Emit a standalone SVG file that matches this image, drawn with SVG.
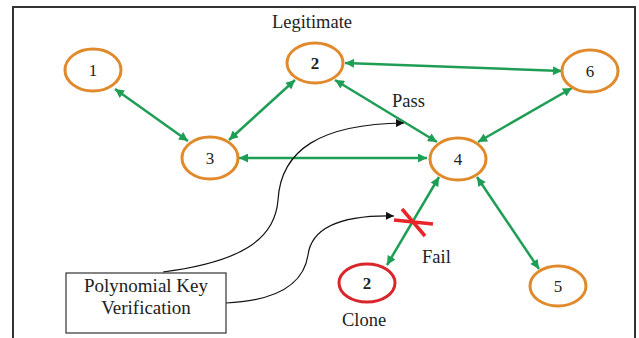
<svg xmlns="http://www.w3.org/2000/svg" width="639" height="338" viewBox="0 0 639 338">
<style>
.node ellipse{fill:#fff;stroke:#e08a2c;stroke-width:3}
.node.clone ellipse{stroke:#d9262c}
text{font-family:'Liberation Serif','Times New Roman','DejaVu Serif',serif}
.num{font-size:17px;fill:#222;text-anchor:middle}
.lbl{font-size:18.5px;fill:#222}
.box{font-size:19px;fill:#222;text-anchor:middle}
.g{stroke:#1e9e55;stroke-width:2.5;fill:none;marker-start:url(#ga);marker-end:url(#ga)}
.k{stroke:#111;stroke-width:1.2;fill:none;marker-end:url(#ka)}
</style>
<defs>
<marker id="ga" viewBox="0 0 10 10" refX="10" refY="5" markerWidth="10" markerHeight="9" markerUnits="userSpaceOnUse" orient="auto-start-reverse"><path d="M0,0 L10,5 L0,10 z" fill="#1e9e55"/></marker>
<marker id="ka" viewBox="0 0 10 10" refX="10" refY="5" markerWidth="9" markerHeight="8" markerUnits="userSpaceOnUse" orient="auto"><path d="M0,0 L10,5 L0,10 z" fill="#111"/></marker>
</defs>
<rect x="0" y="0" width="639" height="338" fill="#fff"/>
<rect x="13" y="7" width="622" height="345" fill="none" stroke="#333" stroke-width="2"/>
<g id="connectors">
<line class="g" x1="115" y1="89" x2="188" y2="141"/>
<line class="g" x1="229" y1="140" x2="295" y2="80"/>
<line class="g" x1="345" y1="63" x2="562" y2="71"/>
<line class="g" x1="335" y1="80" x2="437" y2="142"/>
<line class="g" x1="572" y1="88" x2="478" y2="142"/>
<line class="g" x1="239" y1="158" x2="427" y2="158"/>
<line class="g" x1="439" y1="177" x2="387" y2="265"/>
<line class="g" x1="477" y1="177" x2="539" y2="269"/>
<path class="k" d="M163,272 C240,262 275,240 278,200 C281,150 320,124 404,123"/>
<path class="k" d="M226,303 C290,300 305,275 308,255 C312,225 345,215 394,216"/>
<g id="fail-cross" stroke="#e8262a" stroke-width="3.5" fill="none">
<line x1="394" y1="220" x2="433" y2="224"/>
<line x1="402" y1="209" x2="425" y2="236"/>
</g>
</g>
<g id="node1" class="node"><ellipse cx="93" cy="70" rx="28" ry="21"/><text class="num" x="93" y="76">1</text></g>
<g id="node2" class="node"><ellipse cx="315" cy="63" rx="28" ry="20"/><text class="num" x="315" y="69" font-weight="bold">2</text></g>
<g id="node3" class="node"><ellipse cx="210" cy="158" rx="28" ry="21"/><text class="num" x="210" y="164">3</text></g>
<g id="node4" class="node"><ellipse cx="458" cy="159" rx="28" ry="21"/><text class="num" x="458" y="165">4</text></g>
<g id="node5" class="node"><ellipse cx="558" cy="286" rx="28" ry="20"/><text class="num" x="558" y="292">5</text></g>
<g id="node6" class="node"><ellipse cx="590" cy="71" rx="28" ry="21"/><text class="num" x="590" y="77">6</text></g>
<g id="clone2" class="node clone"><ellipse cx="367" cy="283" rx="28" ry="19"/><text class="num" x="367" y="289" font-weight="bold">2</text></g>
<g id="pkv"><rect x="66" y="273" width="160" height="60" fill="#fff" stroke="#333" stroke-width="1.2"/>
<text class="box" x="146" y="292">Polynomial Key</text>
<text class="box" x="146" y="314">Verification</text></g>
<text class="lbl" x="312" y="28" text-anchor="middle">Legitimate</text>
<text class="lbl" x="392" y="107">Pass</text>
<text class="lbl" x="422" y="263">Fail</text>
<text class="lbl" x="342" y="326">Clone</text>
</svg>
